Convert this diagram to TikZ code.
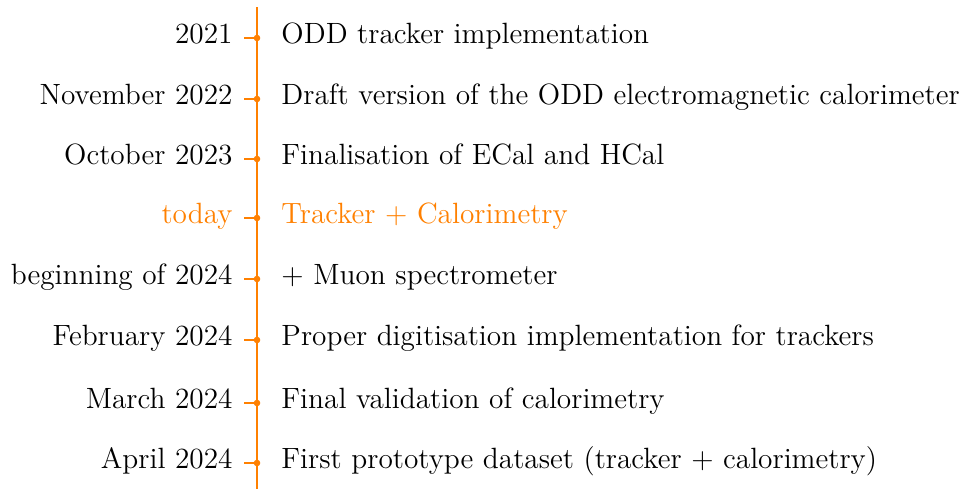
\documentclass[tikz,border=0pt]{standalone}
\begin{document}
\begin{tikzpicture}[x=0.4094pt,y=-0.4094pt,
  font=\fontsize{12}{14.5}\selectfont,
  tl/.style={draw=orange,line width=0.8pt},
  dotmark/.style={circle,fill=orange,inner sep=0pt,minimum size=2.7pt},
  datelbl/.style={anchor=mid east,inner sep=0pt},
  evtlbl/.style={anchor=mid west,inner sep=0pt}]
\useasboundingbox (0,0) rectangle (970,489);
\coordinate (top) at (257,7);
\coordinate (bot) at (257,489);
\draw[tl] (top) -- (bot);
\foreach \i/\y/\d/\e/\c in {
  1/38/2021/ODD tracker implementation/black,
  2/99/November 2022/Draft version of the ODD electromagnetic calorimeter/black,
  3/159/October 2023/Finalisation of ECal and HCal/black,
  4/218/today/Tracker + Calorimetry/orange,
  5/279/beginning of 2024/+ Muon spectrometer/black,
  6/340/February 2024/Proper digitisation implementation for trackers/black,
  7/403/March 2024/Final validation of calorimetry/black,
  8/463/April 2024/First prototype dataset (tracker + calorimetry)/black}{
  \node[dotmark] (m\i) at (257,\y) {};
  \coordinate (t\i) at (244,\y);
  \draw[tl] (t\i) -- (m\i.center);
  \node[datelbl,text=\c] (d\i) at (233,\y) {\d};
  \node[evtlbl,text=\c] (e\i) at (281,\y) {\e};
}
\end{tikzpicture}
\end{document}
